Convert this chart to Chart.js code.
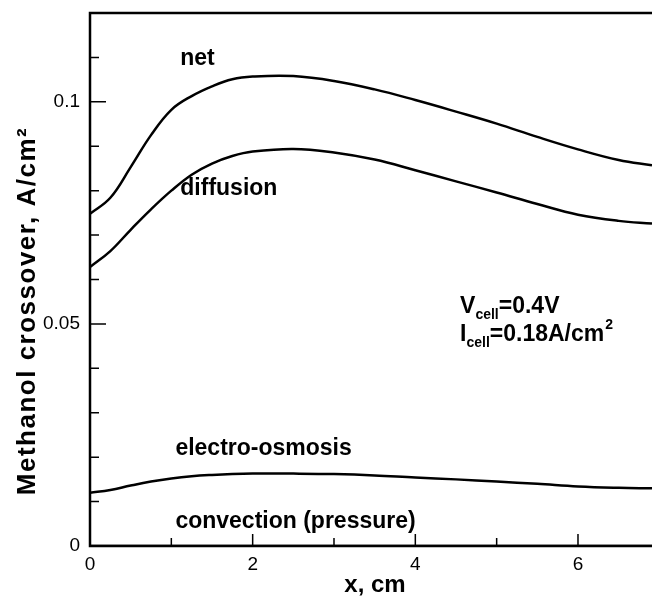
<!DOCTYPE html>
<html>
<head>
<meta charset="utf-8">
<script src="https://cdn.jsdelivr.net/npm/chart.js@4.4.1/dist/chart.umd.min.js"></script>
<style>
  html, body { margin: 0; padding: 0; background: #fff; }
  #wrap { width: 652px; height: 597px; }
</style>
</head>
<body>
<div id="wrap"><canvas id="crossoverChart"></canvas></div>
<script>
// x positions along the channel, cm
const xPositions = [0, 0.25, 0.5, 0.75, 1.0, 1.25, 1.5, 1.75, 2.0, 2.5, 3.0, 3.5, 4.0, 4.5, 5.0, 5.5, 6.0, 6.5, 6.91];

// Methanol crossover, A/cm2
const netValues = [0.0748, 0.0784, 0.0853, 0.0925, 0.0982, 0.1013, 0.1035, 0.1051, 0.1057, 0.1058, 0.1047, 0.1028, 0.1004, 0.0978, 0.0951, 0.0921, 0.0893, 0.0869, 0.0857];
const diffusionValues = [0.0628, 0.0664, 0.0712, 0.0758, 0.0800, 0.0836, 0.0861, 0.0878, 0.0888, 0.0894, 0.0886, 0.0870, 0.0846, 0.0821, 0.0796, 0.0770, 0.0746, 0.0732, 0.0726];
const electroOsmosisValues = [0.0120, 0.0126, 0.0136, 0.0145, 0.0152, 0.0157, 0.0160, 0.0162, 0.0163, 0.0163, 0.0162, 0.0159, 0.0154, 0.0150, 0.0145, 0.0140, 0.0134, 0.0131, 0.0130];
const convectionValues = [0, 0, 0, 0, 0, 0, 0, 0, 0, 0, 0, 0, 0, 0, 0, 0, 0, 0, 0];

// Curve labels placed in data coordinates
const curveLabels = [
    { text: 'net', x: 1.11, y: 0.1098 },
    { text: 'diffusion', x: 1.11, y: 0.0805 },
    { text: 'electro-osmosis', x: 1.05, y: 0.0220 },
    { text: 'convection (pressure)', x: 1.05, y: 0.0054 }
];

const xMajorTicks = [0, 2, 4, 6];
const xMinorTicks = [1, 3, 5];
const yMajorTicks = [0, 0.05, 0.1];
const yMinorTicks = [0.01, 0.02, 0.03, 0.04, 0.06, 0.07, 0.08, 0.09, 0.11];

const family = '"Liberation Sans", Arial, sans-serif';
const boldFont = 'bold 23px ' + family;
const smallBold = 'bold 14px ' + family;

function toPoints(values) {
    return xPositions.map((x, i) => ({ x: x, y: values[i] }));
}

function lineDataset(label, values) {
    return {
        label: label,
        data: toPoints(values),
        borderColor: '#000',
        borderWidth: 2.5,
        pointRadius: 0,
        fill: false,
        tension: 0.4
    };
}

// Frame, inward ticks, axis titles and text annotations
const framePlugin = {
    id: 'frame',
    afterDatasetsDraw(chart) {
        const ctx = chart.ctx;
        const area = chart.chartArea;
        const xs = chart.scales.x;
        const ys = chart.scales.y;

        ctx.save();
        ctx.strokeStyle = '#000';
        ctx.lineWidth = 2.5;
        ctx.beginPath();
        ctx.moveTo(area.right, area.top);
        ctx.lineTo(area.left, area.top);
        ctx.lineTo(area.left, area.bottom);
        ctx.lineTo(area.right, area.bottom);
        ctx.stroke();

        ctx.lineWidth = 1.5;
        ctx.beginPath();
        xMajorTicks.forEach(v => {
            const px = xs.getPixelForValue(v);
            ctx.moveTo(px, area.bottom);
            ctx.lineTo(px, area.bottom - 12);
        });
        xMinorTicks.forEach(v => {
            const px = xs.getPixelForValue(v);
            ctx.moveTo(px, area.bottom);
            ctx.lineTo(px, area.bottom - 8);
        });
        yMajorTicks.forEach(v => {
            const py = ys.getPixelForValue(v);
            ctx.moveTo(area.left, py);
            ctx.lineTo(area.left + 16, py);
        });
        yMinorTicks.forEach(v => {
            const py = ys.getPixelForValue(v);
            ctx.moveTo(area.left, py);
            ctx.lineTo(area.left + 9, py);
        });
        ctx.stroke();

        ctx.fillStyle = '#000';
        ctx.font = boldFont;
        ctx.textBaseline = 'middle';
        ctx.textAlign = 'left';
        curveLabels.forEach(l => {
            ctx.fillText(l.text, xs.getPixelForValue(l.x), ys.getPixelForValue(l.y));
        });

        // V_cell / I_cell annotation with subscripts
        const ax = xs.getPixelForValue(4.55);
        const rows = [
            { main: 'V', sub: 'cell', rest: '=0.4V', y: 0.0538, sup: '' },
            { main: 'I', sub: 'cell', rest: '=0.18A/cm', y: 0.0475, sup: '2' }
        ];
        rows.forEach(r => {
            const py = ys.getPixelForValue(r.y);
            let cx = ax;
            ctx.font = boldFont;
            ctx.fillText(r.main, cx, py);
            cx += ctx.measureText(r.main).width;
            ctx.font = smallBold;
            ctx.fillText(r.sub, cx, py + 8);
            cx += ctx.measureText(r.sub).width;
            ctx.font = boldFont;
            ctx.fillText(r.rest, cx, py);
            cx += ctx.measureText(r.rest).width;
            if (r.sup) {
                ctx.font = smallBold;
                ctx.fillText(r.sup, cx + 1, py - 10);
            }
        });

        // axis titles
        ctx.textAlign = 'center';
        ctx.font = 'bold 24px ' + family;
        ctx.fillText('x, cm', 375, 585);
        ctx.translate(28, 311);
        ctx.rotate(-Math.PI / 2);
        ctx.font = 'bold 26px ' + family;
        ctx.letterSpacing = '1.5px';
        ctx.fillText('Methanol crossover, A/cm²', 0, 0);
        ctx.restore();
    }
};

const chart = new Chart(document.getElementById('crossoverChart'), {
    type: 'line',
    data: {
        datasets: [
            lineDataset('net', netValues),
            lineDataset('diffusion', diffusionValues),
            lineDataset('electro-osmosis', electroOsmosisValues),
            lineDataset('convection (pressure)', convectionValues)
        ]
    },
    options: {
        responsive: true,
        maintainAspectRatio: false,
        animation: false,
        layout: { padding: { top: 13, right: 0, left: 0, bottom: 0 } },
        plugins: {
            legend: { display: false },
            tooltip: { enabled: false }
        },
        scales: {
            x: {
                type: 'linear',
                min: 0,
                max: 6.91,
                grid: { display: false, drawTicks: false },
                border: { display: false },
                afterFit: scale => { scale.height = 51; },
                ticks: {
                    stepSize: 2,
                    includeBounds: false,
                    padding: 7,
                    color: '#000',
                    font: { family: family, size: 19 }
                }
            },
            y: {
                min: 0,
                max: 0.12,
                grid: { display: false, drawTicks: false },
                border: { display: false },
                afterFit: scale => {
                    scale.width = 90;
                    scale.paddingTop = 0;
                    scale.paddingBottom = 0;
                },
                afterBuildTicks: scale => {
                    scale.ticks = yMajorTicks.map(v => ({ value: v }));
                },
                ticks: {
                    padding: 10,
                    color: '#000',
                    callback: v => String(v),
                    font: { family: family, size: 19 }
                }
            }
        }
    },
    plugins: [framePlugin]
});
</script>
</body>
</html>
